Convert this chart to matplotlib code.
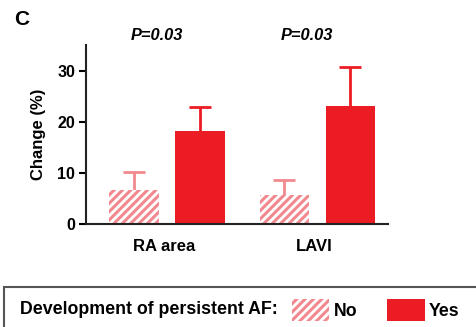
import matplotlib
matplotlib.use("Agg")
import matplotlib.pyplot as plt
from matplotlib.patches import Patch, Rectangle
import numpy as np

plt.rcParams['font.family'] = ['Liberation Sans', 'DejaVu Sans']
plt.rcParams['font.weight'] = 'bold'
plt.rcParams['hatch.linewidth'] = 2.0

# data
categories = ["RA area", "LAVI"]
no_means = [6.6, 5.6]
no_err = [3.5, 3.0]
yes_means = [18.1, 23.0]
yes_err = [4.7, 7.8]
p_values = ["P=0.03", "P=0.03"]
yticks = [0, 10, 20, 30]

PINK = "#f2898f"
RED = "#ec1c24"

fig = plt.figure(figsize=(4.76, 3.27), dpi=100)
ax = fig.add_axes([0.181, 0.315, 0.634, 0.547])

x = np.arange(len(categories))
w = 0.33
off = 0.22

ax.bar(x - off, no_means, w, color=PINK, edgecolor="white", hatch="////",
       linewidth=0, zorder=3)
ax.bar(x + off, yes_means, w, color=RED, linewidth=0, zorder=3)
for xs, means, err, col in [(x - off, no_means, no_err, PINK),
                            (x + off, yes_means, yes_err, RED)]:
    eb = ax.errorbar(xs, means, yerr=[np.zeros(2), err], fmt="none",
                     ecolor=col, elinewidth=2, capsize=8, capthick=2, zorder=2)
    # only the upper cap is shown
    for cap in eb[1]:
        if np.allclose(cap.get_ydata(), means):
            cap.set_visible(False)

for xi, p in zip(x, p_values):
    ax.text(xi - 0.07, 1.0 + 0.055, p, transform=ax.get_xaxis_transform(),
            ha="center", va="center", fontsize=11.8, fontstyle="italic", fontweight="bold")

ax.set_xlim(-0.54, 1.47)
ax.set_ylim(0, 35)
ax.set_yticks(yticks)
ax.set_xticks(x - 0.02)
ax.set_xticklabels(categories, fontsize=12, fontweight="bold")
ax.tick_params(axis="x", length=0, pad=11)
ax.tick_params(axis="y", length=5, width=1.5, labelsize=11.5, pad=3)
ax.set_ylabel("Change (%)", fontsize=12, fontweight="bold", labelpad=8)
for s in ["top", "right"]:
    ax.spines[s].set_visible(False)
for s in ["left", "bottom"]:
    ax.spines[s].set_linewidth(1.5)
    ax.spines[s].set_color("#222222")
    ax.spines[s].set_zorder(4)

fig.text(0.03, 0.94, "C", fontsize=15, fontweight="bold", va="center")

# legend box
fig.add_artist(Rectangle((0.008, -0.02), 1.1, 0.142, transform=fig.transFigure,
                         facecolor="white", edgecolor="#555555", linewidth=1.5))
fig.text(0.042, 0.052, "Development of persistent AF:", fontsize=12.8,
         fontweight="bold", va="center")
handles = [Patch(facecolor=PINK, edgecolor="white", hatch="////", linewidth=0, label="No"),
           Patch(facecolor=RED, linewidth=0, label="Yes")]
fig.legend(handles=handles, ncol=2, frameon=False, loc="center left",
           bbox_to_anchor=(0.594, 0.052), fontsize=12.8, handlelength=2.1,
           handleheight=1.5, handletextpad=0.25, columnspacing=1.7, borderpad=0)

fig.savefig("out.png", dpi=100)
